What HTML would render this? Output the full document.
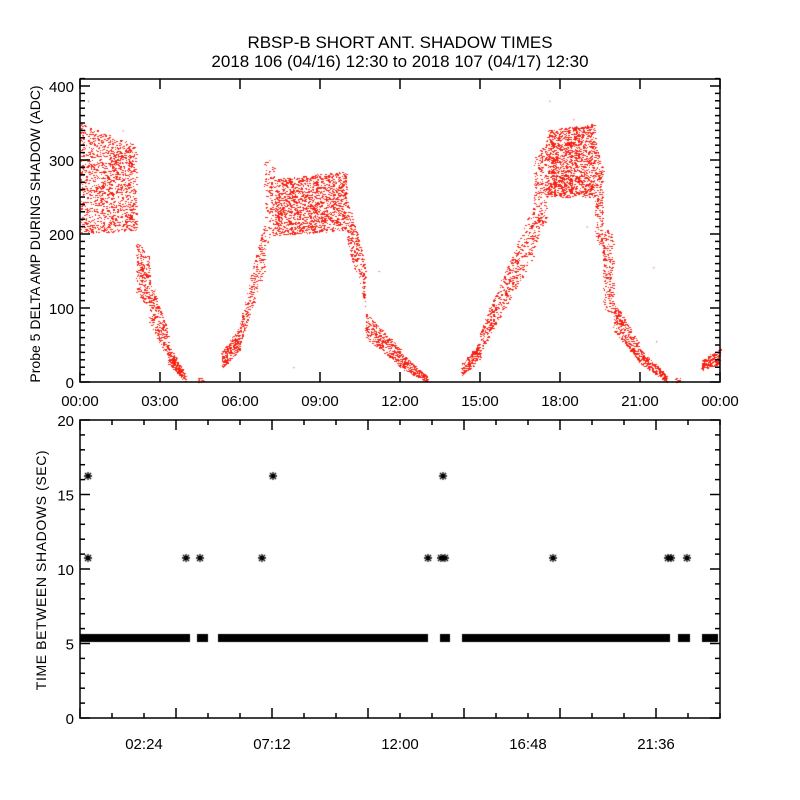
<!DOCTYPE html>
<html><head><meta charset="utf-8"><style>
body{margin:0;background:#fff}
#w{position:relative;width:800px;height:800px}
canvas,svg{position:absolute;left:0;top:0}
text{font-family:"Liberation Sans",sans-serif;fill:#000}
</style></head><body><div id="w">
<canvas id="c" width="800" height="800"></canvas>
<svg id="s" width="800" height="800" xmlns="http://www.w3.org/2000/svg">
<text x="400" y="48" font-size="17" text-anchor="middle">RBSP-B SHORT ANT. SHADOW TIMES</text>
<text x="400" y="67" font-size="17" text-anchor="middle">2018 106 (04/16) 12:30 to 2018 107 (04/17) 12:30</text>
<text transform="translate(40,234) rotate(-90)" font-size="14" text-anchor="middle">Probe 5 DELTA AMP DURING SHADOW (ADC)</text>
<text transform="translate(46,570) rotate(-90)" font-size="14" letter-spacing="0.6" text-anchor="middle">TIME BETWEEN SHADOWS (SEC)</text>
<g id="ax" stroke="#000" fill="none" stroke-width="1.5"></g>
<g id="tl" font-size="15"></g>
</svg></div>
<script>
var ax=document.getElementById('ax'),tl=document.getElementById('tl'),L='';
function ln(a,b,c,d){L+='<line x1="'+a+'" y1="'+b+'" x2="'+c+'" y2="'+d+'"/>';}
var T='';function tx(x,y,s,a){T+='<text x="'+x+'" y="'+y+'" text-anchor="'+(a||'middle')+'">'+s+'</text>';}
function yt(v){return 382-v*0.74;}
L+='<rect x="80" y="79" width="640" height="303"/>';
for(var v=0;v<=410;v+=10){var y=yt(v),len=(v%100==0)?10:5;ln(80,y,80+len,y);ln(720,y,720-len,y);}
for(var v=0;v<=400;v+=100)tx(74,yt(v)+6,v,'end');
var lab=['00:00','03:00','06:00','09:00','12:00','15:00','18:00','21:00','00:00'];
for(var i=0;i<=8;i++){var x=80+i*80;ln(x,382,x,372);ln(x,79,x,89);tx(x,406,lab[i]);}
function yb(v){return 718-v*14.9;}
L+='<rect x="80" y="420" width="640" height="298"/>';
for(var v=0;v<=20;v++){var y=yb(v),len=(v%5==0)?10:5;ln(80,y,80+len,y);ln(720,y,720-len,y);}
for(var v=0;v<=20;v+=5)tx(74,yb(v)+6,v,'end');
for(var i=0;i<=20;i++){var x=80+i*32,len=(i%3==0)?10:5;ln(x,718,x,718-len);ln(x,420,x,420+len);}
var bl=['02:24','07:12','12:00','16:48','21:36'];
for(var i=0;i<5;i++)tx(144+i*128,749,bl[i]);
ax.innerHTML=L;tl.innerHTML=T;
var c=document.getElementById('c').getContext('2d');
var seed=7;function r(){seed=(seed*16807)%2147483647;return seed/2147483647;}
c.fillStyle='#f82010';
var S=[
[0,2.1,200,350,205,320,1400],
[2.1,2.6,120,190,100,170,250],
[2.6,3.3,80,140,30,70,250],
[3.3,3.95,25,50,0,10,220],
[4.4,4.6,0,6,0,6,15],
[5.3,6.0,18,40,45,75,250],
[6.0,6.9,50,80,150,220,250],
[6.9,7.3,170,300,200,290,120],
[7.3,10.0,198,275,205,285,1600],
[10.0,10.7,190,250,100,160,250],
[10.7,12.0,60,95,20,45,350],
[12.0,13.0,20,40,0,8,220],
[14.3,15.0,8,25,30,55,200],
[15.0,17.0,40,70,170,240,500],
[17.0,17.5,180,300,220,330,250],
[17.5,19.3,250,340,250,350,1500],
[19.3,19.6,200,330,170,290,200],
[19.6,20.0,100,210,90,200,200],
[20.0,21.0,70,110,25,50,300],
[21.0,22.0,25,45,0,8,220],
[22.3,22.5,0,6,0,6,10],
[23.3,24.0,15,30,25,45,200]];
S.forEach(function(s){for(var i=0;i<s[6];i++){var t=r(),h=s[0]+(s[1]-s[0])*t,lo=s[2]+(s[4]-s[2])*t,hi=s[3]+(s[5]-s[3])*t;var v=lo+(hi-lo)*r();var x=80+h*26.667,y=yt(v);c.fillRect(Math.round(x),Math.round(y),r()<0.5?2:1,1);}});
[[0.3,380],[1.6,340],[2.8,125],[7.1,300],[8.0,20],[11.2,150],[17.6,380],[18.5,355],[21.6,55],[21.5,155],[19.0,210]].forEach(function(p){c.fillRect(80+p[0]*26.667,yt(p[1]),1,1);});
c.fillStyle='#000';
[[80,190],[197,208],[218,428],[440,450],[462,670],[678,690],[702,718]].forEach(function(b){c.fillRect(b[0],634,b[1]-b[0],8);});
function star(x,y){c.strokeStyle='#000';c.lineWidth=1.3;c.beginPath();c.moveTo(x-4,y);c.lineTo(x+4,y);c.moveTo(x,y-4);c.lineTo(x,y+4);c.moveTo(x-3,y-3);c.lineTo(x+3,y+3);c.moveTo(x-3,y+3);c.lineTo(x+3,y-3);c.stroke();}
[[88,558],[88,476],[186,558],[200,558],[262,558],[273,476],[428,558],[441,558],[445,558],[443,476],[553,558],[668,558],[671,558],[687,558]].forEach(function(p){star(p[0],p[1]);});
</script></body></html>
